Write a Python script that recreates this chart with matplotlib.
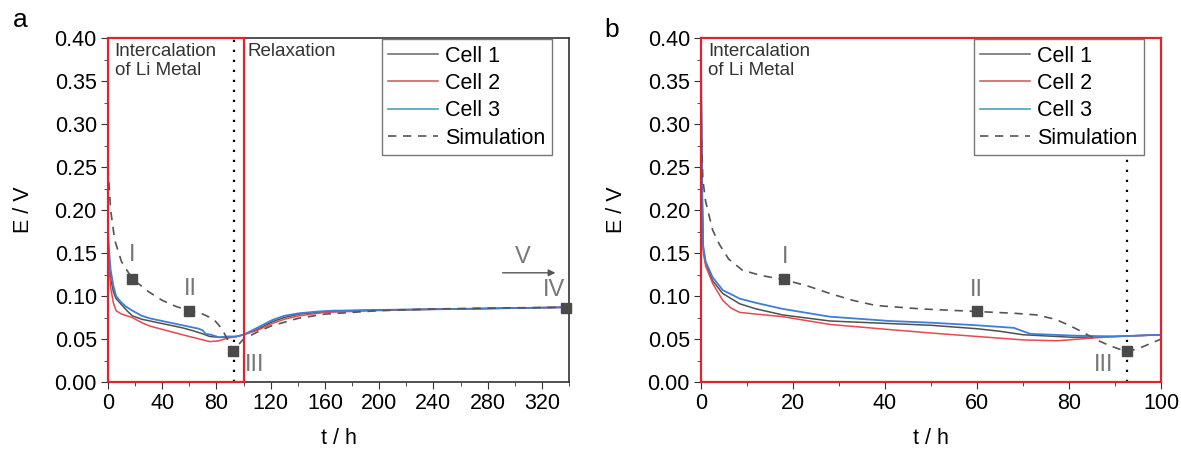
import matplotlib.pyplot as plt
from matplotlib.patches import Rectangle

plt.rcParams['font.family'] = ['Liberation Sans', 'DejaVu Sans']

# ---- panel a data (t in h, E in V)
a_t1 = [0, 1, 2, 4, 6, 10, 14, 18, 25, 31, 43, 55, 62, 70, 75, 82, 88, 95, 100, 110, 121, 130, 141, 160, 200, 260, 340]
a_e1 = [0.165, 0.14, 0.12, 0.105, 0.097, 0.090, 0.083, 0.077, 0.073, 0.071, 0.067, 0.063, 0.060, 0.056, 0.053, 0.052, 0.052, 0.053, 0.055, 0.061, 0.070, 0.075, 0.079, 0.082, 0.084, 0.085, 0.087]
a_t2 = [0, 1, 2, 4, 6, 10, 18, 25, 31, 43, 55, 65, 75, 82, 88, 95, 100, 110, 121, 130, 141, 160, 196, 250, 300, 340]
a_e2 = [0.16, 0.13, 0.11, 0.092, 0.083, 0.079, 0.075, 0.069, 0.065, 0.060, 0.055, 0.051, 0.047, 0.048, 0.051, 0.053, 0.055, 0.060, 0.068, 0.073, 0.077, 0.081, 0.083, 0.085, 0.086, 0.087]
a_t3 = [0, 1, 2, 4, 6, 9, 13, 18, 25, 31, 43, 55, 67, 70, 72, 76, 82, 88, 95, 100, 105, 110, 121, 130, 141, 155, 166, 215, 260, 300, 340]
a_e3 = [0.175, 0.15, 0.13, 0.112, 0.100, 0.094, 0.088, 0.083, 0.077, 0.074, 0.070, 0.066, 0.062, 0.060, 0.056, 0.055, 0.052, 0.053, 0.053, 0.055, 0.059, 0.063, 0.072, 0.077, 0.080, 0.082, 0.083, 0.084, 0.085, 0.086, 0.087]
a_ts = [0, 2, 5, 10, 18, 30, 40, 50, 60, 70, 78, 84, 88, 91, 93, 96, 100, 110, 120, 140, 160, 200, 240, 280, 340]
a_es = [0.25, 0.20, 0.165, 0.14, 0.12, 0.105, 0.095, 0.088, 0.083, 0.079, 0.073, 0.062, 0.050, 0.040, 0.036, 0.043, 0.050, 0.058, 0.065, 0.074, 0.079, 0.083, 0.085, 0.086, 0.087]
a_mark_t = [18, 60, 92.5, 338]
a_mark_e = [0.12, 0.083, 0.036, 0.086]

# ---- panel b data
b_t1 = [0, 0.2, 0.5, 1, 2.5, 4.7, 8.4, 12, 17.8, 28, 41, 50, 60, 65, 70, 81, 90, 100]
b_e1 = [0.36, 0.23, 0.155, 0.138, 0.118, 0.103, 0.091, 0.085, 0.078, 0.071, 0.068, 0.066, 0.062, 0.059, 0.055, 0.052, 0.053, 0.055]
b_t2 = [0, 0.2, 0.5, 1, 2.5, 4.7, 6.5, 8.4, 12, 17.8, 28, 41, 50, 60, 70, 77.5, 84.7, 90, 100]
b_e2 = [0.35, 0.22, 0.15, 0.135, 0.115, 0.095, 0.086, 0.081, 0.079, 0.076, 0.067, 0.061, 0.057, 0.053, 0.049, 0.048, 0.051, 0.053, 0.055]
b_t3 = [0, 0.2, 0.4, 1, 2.5, 4.7, 8.4, 12, 17.8, 28, 41, 50, 60, 68, 71.6, 81, 90, 100]
b_e3 = [0.38, 0.25, 0.16, 0.14, 0.122, 0.107, 0.097, 0.092, 0.085, 0.076, 0.071, 0.069, 0.066, 0.063, 0.056, 0.054, 0.053, 0.055]
b_ts = [0, 0.4, 1, 2.5, 4, 6, 9, 13, 18, 23, 28, 33, 38, 48, 60, 68, 73, 77, 80, 83, 86, 89, 92.7, 96, 100]
b_es = [0.30, 0.235, 0.21, 0.177, 0.16, 0.143, 0.130, 0.124, 0.119, 0.112, 0.103, 0.095, 0.089, 0.085, 0.082, 0.080, 0.078, 0.073, 0.066, 0.058, 0.049, 0.042, 0.035, 0.041, 0.050]
b_mark_t = [18, 60, 92.5]
b_mark_e = [0.12, 0.083, 0.036]

c1, c2, c3, cs = "#505050", "#e8484f", "#3d7fd6", "#555555"
red = "#e0242e"
frame = "#333333"
lblc = "#777777"

fig = plt.figure(figsize=(11.81, 4.5), dpi=100)
axa = fig.add_axes([0.0914, 0.151, 0.3904, 0.7645])
axb = fig.add_axes([0.5936, 0.151, 0.3895, 0.7645])


def style(ax, xmax, xmaj, xmin):
    ax.set_ylim(0, 0.4)
    ax.set_xlim(0, xmax)
    ax.set_xticks(range(0, int(xmax) + 1, xmaj))
    ax.set_xticks([v for v in range(0, int(xmax) + 1, xmin)], minor=True)
    ax.set_yticks([i * 0.05 for i in range(9)])
    ax.set_yticks([i * 0.025 for i in range(17)], minor=True)
    ax.set_yticklabels([f"{i * 0.05:.2f}" for i in range(9)])
    ax.tick_params(which="both", direction="out", colors=frame, labelcolor="black", labelsize=15.5)
    ax.tick_params(which="major", length=5, pad=3)
    ax.tick_params(which="minor", length=3)
    for s in ax.spines.values():
        s.set_color(frame)
        s.set_linewidth(1.2)
    ax.set_xlabel("t / h", fontsize=15.5, labelpad=10)
    ax.set_ylabel("E / V", fontsize=15.5, labelpad=15)


def curves(ax, t1, e1, t2, e2, t3, e3, ts, es):
    ax.plot(t1, e1, color=c1, lw=1.1, label="Cell 1")
    ax.plot(t2, e2, color=c2, lw=1.1, label="Cell 2")
    ax.plot(t3, e3, color=c3, lw=1.3, label="Cell 3")
    ax.plot(ts, es, color=cs, lw=1.2, ls=(0, (5, 4)), label="Simulation")
    leg = ax.legend(loc="upper right", bbox_to_anchor=(0.963, 0.997), borderaxespad=0,
                    fontsize=15.5, fancybox=False, edgecolor="#777777", handlelength=2.3,
                    labelspacing=0.3, borderpad=0.3, handletextpad=0.35, framealpha=1)
    leg.get_frame().set_linewidth(1.0)
    leg.set_zorder(10)
    for h, c in zip(leg.get_lines(), ["#666666", "#c9545a", "#5aa7c8", cs]):
        h.set_color(c)


# ---- panel a
style(axa, 340, 40, 20)
axa.axvline(93, color="black", ls=(0, (1, 3.5)), lw=1.6, zorder=1)
curves(axa, a_t1, a_e1, a_t2, a_e2, a_t3, a_e3, a_ts, a_es)
axa.add_patch(Rectangle((0, 0), 100, 0.4, fill=False, edgecolor=red, lw=1.6, clip_on=False, zorder=5))
axa.plot(a_mark_t, a_mark_e, ls="none", marker="s", ms=7.5, color="#4a4a4a", clip_on=False, zorder=6)
axa.text(18, 0.148, "I", ha="center", va="center", fontsize=17, color=lblc)
axa.text(61, 0.108, "II", ha="center", va="center", fontsize=17, color=lblc)
axa.text(108, 0.02, "III", ha="center", va="center", fontsize=17, color=lblc)
axa.text(329, 0.107, "IV", ha="center", va="center", fontsize=17, color=lblc)
axa.text(306, 0.145, "V", ha="center", va="center", fontsize=17, color=lblc)
axa.annotate("", xy=(332, 0.127), xytext=(289, 0.127),
             arrowprops=dict(arrowstyle="-|>", color="#555555", lw=1.0, mutation_scale=10))
axa.text(5, 0.394, "Intercalation\nof Li Metal", ha="left", va="top", fontsize=13.5,
         color="#333333", linespacing=1.15)
axa.text(103, 0.394, "Relaxation", ha="left", va="top", fontsize=13.5, color="#333333")

# ---- panel b
style(axb, 100, 20, 10)
axb.axvline(92.7, color="black", ls=(0, (1, 3.5)), lw=1.6, zorder=1)
curves(axb, b_t1, b_e1, b_t2, b_e2, b_t3, b_e3, b_ts, b_es)
for s in axb.spines.values():
    s.set_color(red)
    s.set_linewidth(1.6)
    s.set_zorder(5)
axb.plot(b_mark_t, b_mark_e, ls="none", marker="s", ms=7.5, color="#4a4a4a", zorder=6)
axb.text(18.2, 0.145, "I", ha="center", va="center", fontsize=17, color=lblc)
axb.text(59.8, 0.107, "II", ha="center", va="center", fontsize=17, color=lblc)
axb.text(87.5, 0.02, "III", ha="center", va="center", fontsize=17, color=lblc)
axb.text(1.5, 0.394, "Intercalation\nof Li Metal", ha="left", va="top", fontsize=13.5,
         color="#333333", linespacing=1.15)

fig.text(20 / 1181, 1 - 20 / 450, "a", fontsize=19, ha="center", va="center")
fig.text(612 / 1181, 1 - 30 / 450, "b", fontsize=19, ha="center", va="center")

fig.savefig("out.png", dpi=100, facecolor="white")
